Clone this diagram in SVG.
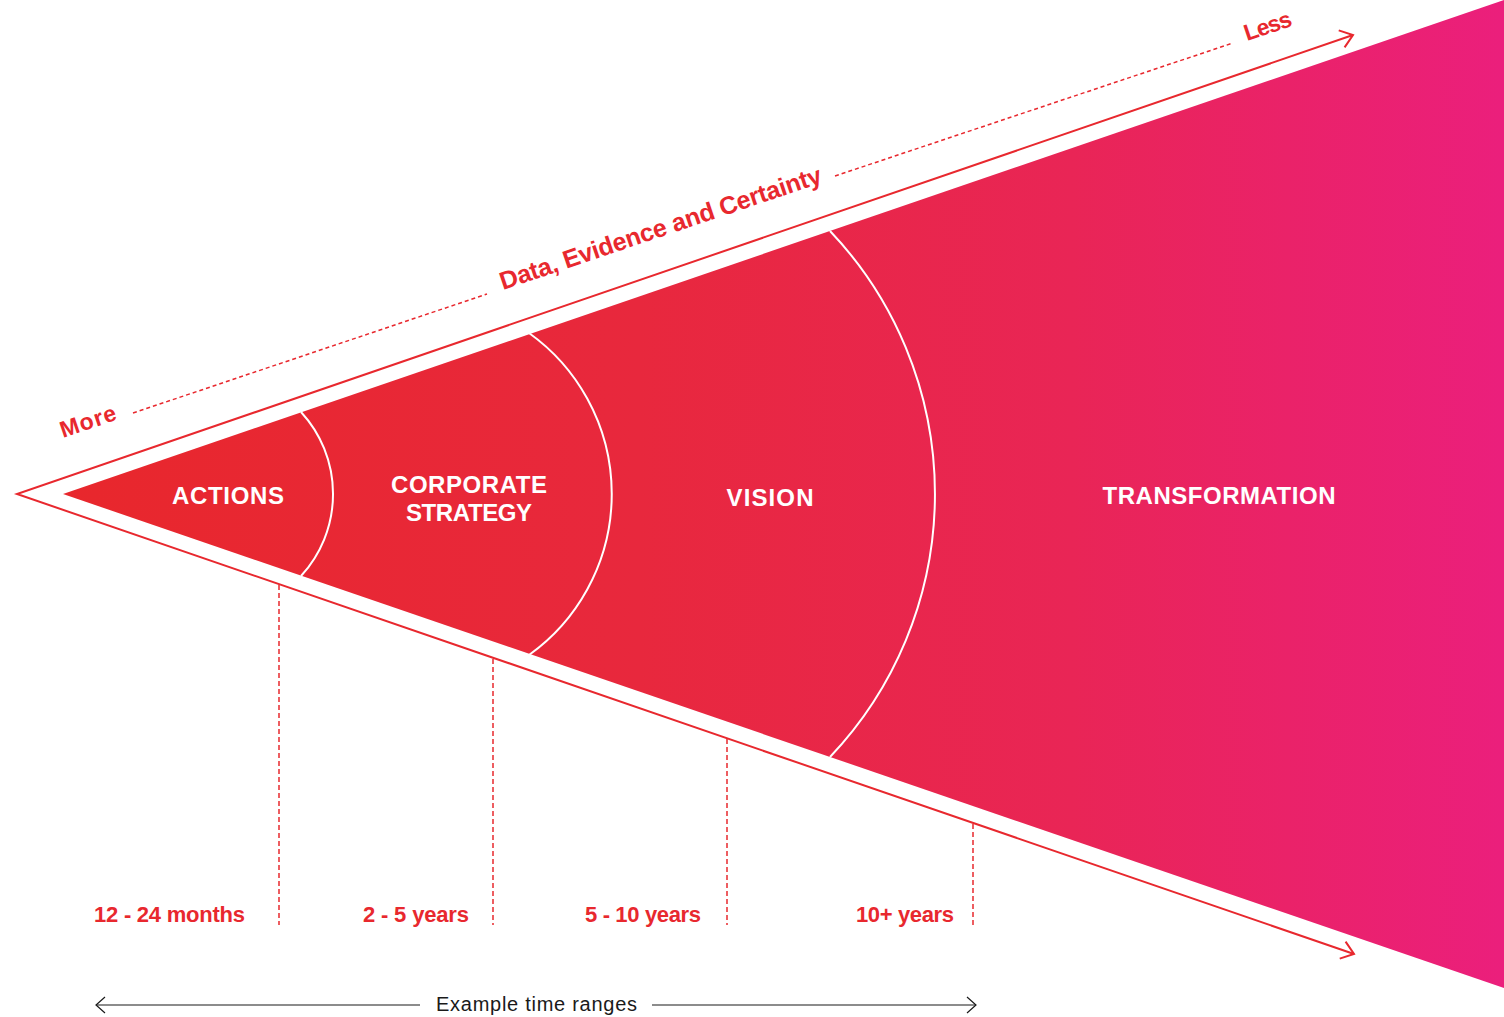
<svg xmlns="http://www.w3.org/2000/svg" width="1504" height="1017" viewBox="0 0 1504 1017">
  <style>
    .lbl { font-family: "Liberation Sans", Arial, sans-serif; font-weight: bold; fill: #ffffff; font-size: 24px; text-anchor: middle; }
    .red { font-family: "Liberation Sans", Arial, sans-serif; font-weight: bold; fill: #E8282E; }
    .range { font-size: 22px; }
    .rot { font-size: 25px; }
    .rots { font-size: 23px; }
    .axis { font-family: "Liberation Sans", Arial, sans-serif; fill: #1a1a1a; font-size: 20px; }
    .arc { fill: none; stroke: #ffffff; stroke-width: 2; }
    .outline { fill: none; stroke: #E8282E; stroke-width: 2; }
    .vdash { fill: none; stroke: #E8282E; stroke-width: 1.5; stroke-dasharray: 5 3; }
    .gdash { fill: none; stroke: #E8282E; stroke-width: 1.5; stroke-dasharray: 4 3; }
    .blk { fill: none; stroke: #1a1a1a; stroke-width: 1.2; }
  </style>
  <defs>
    <linearGradient id="cone" gradientUnits="userSpaceOnUse" x1="63" y1="0" x2="1504" y2="0">
      <stop offset="0" stop-color="#E8272C"/>
      <stop offset="0.4" stop-color="#E8283D"/>
      <stop offset="0.7" stop-color="#E92556"/>
      <stop offset="1" stop-color="#EB1F7C"/>
    </linearGradient>
    <marker id="chevRed" markerUnits="userSpaceOnUse" markerWidth="30" markerHeight="30" refX="15" refY="15" orient="auto-start-reverse" viewBox="0 0 30 30">
      <path d="M3,6 L15,15 L3,24" fill="none" stroke="#E8282E" stroke-width="2"/>
    </marker>
    <marker id="chevBlk" markerUnits="userSpaceOnUse" markerWidth="30" markerHeight="30" refX="15" refY="15" orient="auto-start-reverse" viewBox="0 0 30 30">
      <path d="M6,7 L15,15 L6,23" fill="none" stroke="#1a1a1a" stroke-width="1.2"/>
    </marker>
  </defs>

  <rect width="1504" height="1017" fill="#ffffff"/>

  <g id="cone-shape">
    <path d="M63,494 L1504,0 L1504,988 Z" fill="url(#cone)"/>
  </g>

  <g id="dividers">
    <path class="arc" d="M301,412 A121,121 0 0 1 301,576"/>
    <path class="arc" d="M529,333 A198,198 0 0 1 529,655"/>
    <path class="arc" d="M830,231 A382,382 0 0 1 830,757"/>
  </g>

  <g id="node-actions"><text class="lbl" x="228" y="504" textLength="112">ACTIONS</text></g>
  <g id="node-corporate-strategy">
    <text class="lbl" x="469" y="493" textLength="156">CORPORATE</text>
    <text class="lbl" x="469" y="521" textLength="126">STRATEGY</text>
  </g>
  <g id="node-vision"><text class="lbl" x="770" y="506" textLength="87">VISION</text></g>
  <g id="node-transformation"><text class="lbl" x="1219" y="504" textLength="233">TRANSFORMATION</text></g>

  <g id="connectors">
    <path class="outline" d="M1353,35 L17,494 L1354,954" marker-start="url(#chevRed)" marker-end="url(#chevRed)"/>
    <line class="vdash" x1="279" y1="585" x2="279" y2="925"/>
    <line class="vdash" x1="493" y1="659" x2="493" y2="925"/>
    <line class="vdash" x1="727" y1="739" x2="727" y2="925"/>
    <line class="vdash" x1="973" y1="824" x2="973" y2="925"/>
    <line class="gdash" x1="133" y1="413" x2="487" y2="294"/>
    <line class="gdash" x1="835" y1="176" x2="1233" y2="43"/>
    <line class="blk" x1="96" y1="1005" x2="420" y2="1005" marker-start="url(#chevBlk)"/>
    <line class="blk" x1="652" y1="1005" x2="976" y2="1005" marker-end="url(#chevBlk)"/>
  </g>

  <g id="axis-labels">
    <text class="red rots" x="63" y="438" transform="rotate(-18.6 63 438)" textLength="58">More</text>
    <text class="red rot" x="503" y="290" transform="rotate(-18.6 503 290)" textLength="338">Data, Evidence and Certainty</text>
    <text class="red rots" x="1247" y="41" transform="rotate(-18.6 1247 41)" textLength="49">Less</text>
  </g>

  <g id="time-ranges">
    <text class="red range" x="94" y="922" textLength="151">12 - 24 months</text>
    <text class="red range" x="363" y="922" textLength="106">2 - 5 years</text>
    <text class="red range" x="585" y="922" textLength="116">5 - 10 years</text>
    <text class="red range" x="856" y="922" textLength="98">10+ years</text>
    <text class="axis" x="436" y="1011" textLength="201">Example time ranges</text>
  </g>
</svg>
